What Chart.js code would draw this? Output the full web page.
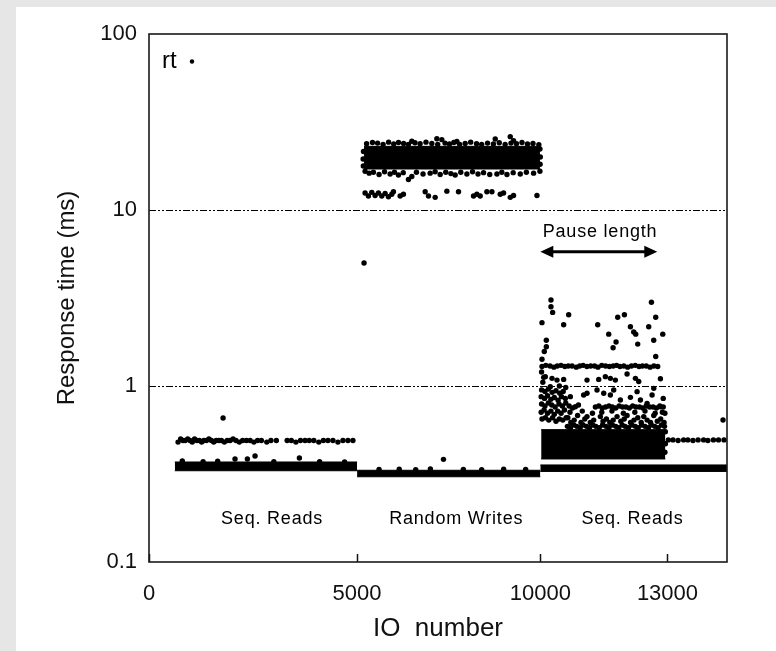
<!DOCTYPE html>
<html>
<head>
<meta charset="utf-8">
<script src="https://cdn.jsdelivr.net/npm/chart.js@4.4.1/dist/chart.umd.min.js"></script>
<style>
  html, body { margin: 0; padding: 0; background: #e6e6e6; }
  #panel { position: absolute; left: 16px; top: 7px; right: 0; bottom: 0; background: #fff; }
  #rtChart { position: absolute; left: 0; top: 0; }
</style>
</head>
<body>
<div id="panel"></div>
<canvas id="rtChart" width="776" height="651"></canvas>
<script>
// response time per IO, log scale

const xTicks = [0, 5000, 10000, 13000];
const yTicks = [0.1, 1, 10, 100];
const yTickLabels = ['0.1', '1', '10', '100'];

// runs of IOs so dense they print as solid black
const bandFrom = [620, 5000, 5190, 10000, 10020];
const bandTo   = [5000, 10000, 9990, 14400, 12950];
const bandLow  = [0.33, 0.305, 17.1, 0.327, 0.385];
const bandHigh = [0.37, 0.332, 23.0, 0.356, 0.565];

// seq. reads (first phase)
const seqReadPts = [
  [698,0.48],[760,0.50],[815,0.49],[870,0.49],[930,0.50],[985,0.49],[1040,0.48],[1095,0.50],
  [1150,0.49],[1210,0.49],[1265,0.48],[1320,0.49],[1380,0.49],[1440,0.50],[1500,0.49],[1555,0.48],
  [1615,0.49],[1680,0.49],[1740,0.49],[1810,0.48],[1880,0.49],[1950,0.49],[2020,0.50],[2090,0.49],
  [2170,0.48],[2250,0.49],[2340,0.49],[2430,0.49],[2520,0.48],[2610,0.49],[2700,0.49],[2830,0.48],
  [2930,0.49],[3060,0.49],[3320,0.49],[3420,0.49],[3530,0.48],[3640,0.49],[3750,0.49],[3850,0.49],
  [3960,0.49],[4080,0.48],[4190,0.49],[4300,0.49],[4420,0.49],[4540,0.48],[4660,0.49],[4780,0.49],
  [4900,0.49],
  [1780,0.658],[800,0.375],[1300,0.372],[1650,0.374],[2067,0.385],[2364,0.385],[2548,0.40],
  [3000,0.372],[3614,0.39],[4100,0.372],[4700,0.37]
];

// random writes
const writePts = [
  [5190,5.0],[7358,0.383],
  [5600,0.336],[6150,0.337],[6600,0.335],[7000,0.338],[7900,0.336],[8400,0.335],[9000,0.337],[9600,0.336],
  [6494,24.6],[7177,25.4],[7313,25.1],[7723,24.5],[8770,25.3],[9180,26.1],[9270,24.8],
  [5260,23.8],[5420,24.2],[5560,24.0],[5710,23.6],[5860,24.3],[6000,23.7],[6130,24.2],[6270,23.9],
  [6400,23.6],[6580,24.1],[6720,23.8],[6880,24.3],[7040,23.9],[7200,23.6],[7400,24.0],[7520,23.7],
  [7640,24.2],[7800,23.6],[7950,23.9],[8100,24.3],[8260,23.8],[8400,23.6],[8560,24.0],[8720,23.7],
  [8880,24.1],[9040,23.6],[9200,24.0],[9350,23.8],[9500,24.2],[9650,23.7],[9800,23.9],[9960,23.5],
  [5170,17.8],[5165,19.5],[5175,21.5],[9995,18.2],[10000,20.0],[9990,22.2],
  [5219,16.6],[5330,16.2],[5446,16.4],[5600,15.9],[5750,16.5],[5902,16.0],[6020,16.4],[6129,15.8],
  [6260,16.3],[6402,14.9],[6494,15.5],[6620,16.4],[6800,16.0],[6994,16.2],[7130,16.5],[7268,15.9],
  [7420,16.4],[7560,16.1],[7677,15.8],[7830,16.4],[7997,16.0],[8150,16.5],[8300,16.0],[8451,16.3],
  [8620,15.9],[8816,16.0],[8950,16.4],[9090,15.9],[9260,16.3],[9453,16.0],[9620,16.4],[9817,16.2],
  [9990,16.6],
  [5219,12.5],[5310,12.0],[5401,12.6],[5492,12.1],[5583,12.5],[5674,12.0],[5765,12.4],[5856,11.9],
  [5947,12.3],[5992,12.7],[6175,12.0],[6265,12.3],[6858,12.7],[6949,12.0],[7131,11.8],[7450,12.8],
  [7768,12.7],[8178,12.0],[8269,12.3],[8360,12.0],[8542,12.7],[8679,12.7],[8907,12.3],[8997,12.5],
  [9180,11.8],[9270,12.1],[9909,12.1]
];

// seq. reads after the writes (pause phase)
const pausePts = [
  [10252,3.08],[10252,2.82],[10291,2.62],[10040,2.29],[10669,2.54],[10551,2.23],[11354,2.23],
  [11614,1.97],[11787,1.78],[11717,1.65],[11826,2.46],[11984,2.54],[12126,2.17],[12204,2.03],
  [12251,1.97],[12298,1.73],[12558,2.17],[12622,2.99],[12723,2.46],[12676,1.82],[12889,1.97],
  [12723,1.47],[12834,1.10],[10142,1.82],[10142,1.67],[10094,1.57],[10040,1.42],
  [10040,1.29],[10130,1.31],[10230,1.30],[10320,1.28],[10400,1.30],[10490,1.31],[10580,1.29],
  [10660,1.30],[10750,1.30],[10850,1.28],[10930,1.30],[11010,1.31],[11100,1.29],[11190,1.30],
  [11280,1.30],[11360,1.28],[11450,1.31],[11540,1.30],[11630,1.29],[11720,1.30],[11800,1.31],
  [11880,1.29],[11970,1.30],[12060,1.28],[12150,1.30],[12240,1.31],[12330,1.29],[12410,1.30],
  [12500,1.30],[12590,1.28],[12680,1.30],[12770,1.29],
  [10030,1.20],[10080,1.12],[10060,1.05],[10118,1.13],[10276,1.105],[10394,1.08],[10551,1.09],
  [10236,0.99],[10450,1.0],[10600,0.98],[11102,1.08],[11378,1.09],[11535,1.13],[11653,1.105],
  [11771,1.08],[12047,1.17],[12244,1.105],[12322,1.06],[12677,0.97],[11732,0.949],[11338,0.949],
  [11102,0.909],[11023,0.889],[10709,0.87],[10827,0.763],[11496,0.909],[11653,0.889],[11889,0.833],
  [12126,0.862],[12283,0.929],[12362,0.833],[12519,0.797],[12637,0.889],[12834,0.763],[12900,0.85],
  [12940,0.70],
  // dense block at the start of the pause
  [10030,0.95],[10110,0.93],[10190,0.96],[10280,0.92],[10370,0.94],[10460,0.91],[10540,0.93],
  [10020,0.87],[10100,0.85],[10170,0.88],[10250,0.84],[10330,0.86],[10420,0.83],[10500,0.87],[10590,0.85],
  [10030,0.79],[10110,0.77],[10190,0.80],[10270,0.78],[10350,0.76],[10440,0.79],[10520,0.77],[10600,0.80],
  [10020,0.71],[10090,0.73],[10170,0.70],[10250,0.72],[10330,0.69],[10410,0.72],[10490,0.70],[10570,0.73],
  [10040,0.65],[10120,0.66],[10200,0.64],[10290,0.66],[10370,0.63],[10450,0.65],[10530,0.64],[10610,0.66],
  // row near 0.76
  [10680,0.77],[10760,0.75],[10900,0.78],[11300,0.76],[11380,0.77],[11460,0.75],[11540,0.76],
  [11620,0.77],[11700,0.76],[11780,0.75],[11860,0.77],[11940,0.76],[12020,0.76],[12100,0.75],
  [12180,0.77],[12260,0.76],[12340,0.76],[12420,0.75],[12500,0.77],[12580,0.76],[12660,0.76],
  [12740,0.75],[12820,0.77],[12900,0.76],
  // 0.62 - 0.72
  [10650,0.66],[10720,0.62],[10800,0.64],[10880,0.68],[10960,0.62],[11050,0.65],[11102,0.67],
  [11180,0.62],[11260,0.64],[11417,0.67],[11480,0.63],[11560,0.65],[11640,0.62],[11720,0.64],
  [11811,0.67],[11900,0.63],[11980,0.65],[12047,0.68],[12130,0.62],[12210,0.64],[12300,0.66],
  [12380,0.62],[12441,0.67],[12520,0.64],[12600,0.62],[12677,0.68],[12760,0.63],[12840,0.65],
  [12920,0.62],[12950,0.55],[12952,0.47],[12940,0.42],
  [10700,0.71],[10990,0.72],[11230,0.70],[11450,0.71],[11690,0.72],[11960,0.70],[12230,0.71],
  [12470,0.72],[12710,0.70],[12880,0.71],
  // 0.58 - 0.60 edge of the core
  [10640,0.59],[10710,0.58],[10790,0.60],[10860,0.59],[10940,0.58],[11010,0.60],[11090,0.59],
  [11160,0.58],[11240,0.60],[11310,0.59],[11390,0.58],[11470,0.60],[11550,0.59],[11620,0.58],
  [11700,0.60],[11780,0.59],[11850,0.58],[11930,0.60],[12000,0.59],[12080,0.58],[12160,0.60],
  [12240,0.59],[12310,0.58],[12390,0.60],[12470,0.59],[12550,0.58],[12620,0.60],[12700,0.59],
  [12780,0.58],[12860,0.60],[12930,0.59]
];

// after the pause
const tailPts = [
  [13020,0.494],[13130,0.494],[13250,0.49],[13380,0.494],[13480,0.494],[13600,0.49],[13720,0.494],
  [13850,0.494],[13950,0.49],[14080,0.494],[14200,0.494],[14330,0.494],[14306,0.641]
];

// text in the plot, placed in data units
const noteText = ['Seq. Reads', 'Random Writes', 'Seq. Reads', 'Pause length'];
const noteX = [2957, 7705, 12173, 11410];
const noteY = [0.175, 0.175, 0.175, 7.5];
const pauseFrom = 10000, pauseTo = 12760, pauseAt = 5.8;

// the printed IO axis is not uniform: each phase got its own width
const ioBreaks = [0, 5000, 10000, 13000, 14400];
const ioStops  = [0, 0.360, 0.677, 0.897, 1];

function ioDecimal(v) {
  for (let i = 1; i < ioBreaks.length; i++) {
    if (v <= ioBreaks[i] || i === ioBreaks.length - 1) {
      const f = (v - ioBreaks[i - 1]) / (ioBreaks[i] - ioBreaks[i - 1]);
      return ioStops[i - 1] + f * (ioStops[i] - ioStops[i - 1]);
    }
  }
  return 0;
}
function ioValue(d) {
  for (let i = 1; i < ioStops.length; i++) {
    if (d <= ioStops[i] || i === ioStops.length - 1) {
      const f = (d - ioStops[i - 1]) / (ioStops[i] - ioStops[i - 1]);
      return ioBreaks[i - 1] + f * (ioBreaks[i] - ioBreaks[i - 1]);
    }
  }
  return 0;
}

class IoScale extends Chart.LinearScale {
  getPixelForValue(value) {
    if (value === null || value === undefined || isNaN(value)) return NaN;
    return this.getPixelForDecimal(ioDecimal(value));
  }
  getValueForPixel(pixel) {
    return ioValue(this.getDecimalForPixel(pixel));
  }
}
IoScale.id = 'io';
IoScale.defaults = Chart.LinearScale.defaults;
Chart.register(IoScale);

const FONT = "'Liberation Sans', Arial, Helvetica, sans-serif";
const toXY = pts => pts.map(p => ({ x: p[0], y: p[1] }));

const datasets = [];
bandFrom.forEach((from, i) => {
  datasets.push({
    type: 'line', data: [{ x: from, y: bandLow[i] }, { x: bandTo[i], y: bandLow[i] }],
    borderColor: '#000', borderWidth: 1, pointRadius: 0, fill: false
  });
  datasets.push({
    type: 'line', data: [{ x: from, y: bandHigh[i] }, { x: bandTo[i], y: bandHigh[i] }],
    borderColor: '#000', borderWidth: 1, pointRadius: 0, fill: '-1', backgroundColor: '#000'
  });
});
[seqReadPts, writePts, pausePts, tailPts].forEach(pts => {
  datasets.push({
    label: 'rt', data: toXY(pts),
    pointRadius: 2.7, pointBackgroundColor: '#000', pointBorderWidth: 0, pointHoverRadius: 0
  });
});

const framePlugin = {
  id: 'frame',
  afterDatasetsDraw(chart) {
    const { ctx, chartArea: a, scales } = chart;
    ctx.save();
    // notes
    ctx.fillStyle = '#000';
    ctx.font = '18px ' + FONT;
    ctx.textAlign = 'center';
    ctx.textBaseline = 'middle';
    ctx.letterSpacing = '0.8px';
    noteText.forEach((t, i) => {
      ctx.fillText(t, scales.x.getPixelForValue(noteX[i]), scales.y.getPixelForValue(noteY[i]));
    });
    ctx.letterSpacing = '0px';
    // pause arrow
    const x1 = scales.x.getPixelForValue(pauseFrom);
    const x2 = scales.x.getPixelForValue(pauseTo);
    const ay = scales.y.getPixelForValue(pauseAt);
    ctx.strokeStyle = '#000';
    ctx.lineWidth = 3;
    ctx.beginPath();
    ctx.moveTo(x1 + 8, ay);
    ctx.lineTo(x2 - 8, ay);
    ctx.stroke();
    ctx.beginPath();
    ctx.moveTo(x1, ay); ctx.lineTo(x1 + 13, ay - 6); ctx.lineTo(x1 + 13, ay + 6); ctx.closePath();
    ctx.moveTo(x2, ay); ctx.lineTo(x2 - 13, ay - 6); ctx.lineTo(x2 - 13, ay + 6); ctx.closePath();
    ctx.fill();
    // legend
    ctx.textAlign = 'left';
    ctx.textBaseline = 'alphabetic';
    ctx.font = '24px ' + FONT;
    ctx.fillText('rt', a.left + 13, a.top + 34);
    ctx.beginPath();
    ctx.arc(a.left + 43, a.top + 27.5, 2.2, 0, Math.PI * 2);
    ctx.fill();
    // box
    ctx.strokeStyle = '#1a1a1a';
    ctx.lineWidth = 1.6;
    ctx.strokeRect(a.left, a.top, a.right - a.left, a.bottom - a.top);
    ctx.restore();
  }
};

new Chart(document.getElementById('rtChart'), {
  type: 'scatter',
  data: { datasets: datasets },
  options: {
    responsive: false,
    animation: false,
    events: [],
    layout: { padding: { left: 0, right: 49, top: 34, bottom: 0 } },
    plugins: { legend: { display: false }, tooltip: { enabled: false } },
    scales: {
      x: {
        type: 'io', min: 0, max: 14400,
        afterBuildTicks: s => { s.ticks = xTicks.map(v => ({ value: v })); },
        afterFit: s => { s.height = 89; },
        grid: { drawOnChartArea: false, drawTicks: true, tickLength: -8, tickColor: '#111', tickWidth: 1.5 },
        border: { display: false },
        ticks: {
          autoSkip: false, maxRotation: 0, padding: 27, color: '#111',
          font: { family: FONT, size: 22 },
          callback: v => String(v)
        },
        title: {
          display: true, text: 'IO  number', color: '#111',
          font: { family: FONT, size: 26 }, padding: { top: 0, bottom: 7 }
        }
      },
      y: {
        type: 'logarithmic', min: 0.1, max: 100,
        afterBuildTicks: s => { s.ticks = yTicks.map(v => ({ value: v })); },
        afterFit: s => { s.width = 149; },
        grid: {
          drawTicks: false, lineWidth: 1,
          color: c => (c.tick && (c.tick.value === 1 || c.tick.value === 10)) ? '#000' : 'rgba(0,0,0,0)'
        },
        border: { display: false, dash: [7, 2, 2, 2, 2, 2] },
        ticks: {
          padding: 12, color: '#111',
          font: { family: FONT, size: 22 },
          callback: v => yTickLabels[yTicks.indexOf(v)]
        },
        title: {
          display: true, text: 'Response time (ms)', color: '#111',
          font: { family: FONT, size: 24 }, padding: { top: 53, bottom: 0 }
        }
      }
    }
  },
  plugins: [framePlugin]
});
</script>
</body>
</html>
